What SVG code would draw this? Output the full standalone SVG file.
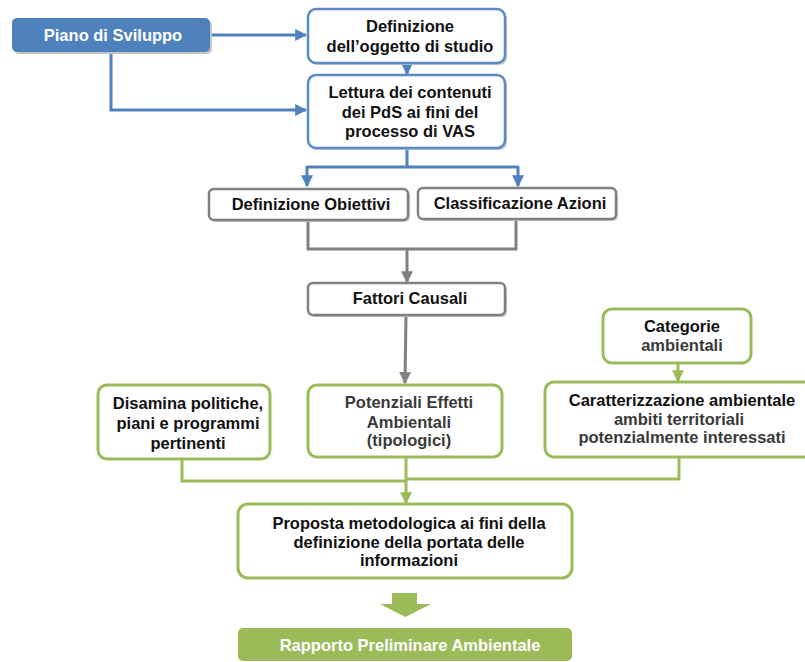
<svg xmlns="http://www.w3.org/2000/svg" width="805" height="662" viewBox="0 0 805 662">
<defs>
<style>
text{font-family:"Liberation Sans",Arial,sans-serif;font-weight:bold;font-size:16.5px;text-anchor:middle;fill:#111}
.lt{fill:#3a3a3a}
.wt{fill:#fff}
.sh{fill:#c4c4c4}
.bb{fill:#fff;stroke:#5b8bc6;stroke-width:2.5}
.gb{fill:#fff;stroke:#808080;stroke-width:2.5}
.vb{fill:#fff;stroke:#9bbb59;stroke-width:3}
.cb{fill:none;stroke:#4f81bd;stroke-width:3}
.cg{fill:none;stroke:#808080;stroke-width:3}
.cv{fill:none;stroke:#9bbb59;stroke-width:3}
</style>
<marker id="ab" viewBox="0 0 10 10" refX="9" refY="5" markerWidth="4" markerHeight="4" orient="auto" markerUnits="strokeWidth"><path d="M0,0 L10,5 L0,10 z" fill="#4f81bd"/></marker>
<marker id="ag" viewBox="0 0 10 10" refX="9" refY="5" markerWidth="4" markerHeight="4" orient="auto" markerUnits="strokeWidth"><path d="M0,0 L10,5 L0,10 z" fill="#808080"/></marker>
<marker id="av" viewBox="0 0 10 10" refX="9" refY="5" markerWidth="4" markerHeight="4" orient="auto" markerUnits="strokeWidth"><path d="M0,0 L10,5 L0,10 z" fill="#9bbb59"/></marker>
</defs>
<rect width="805" height="662" fill="#fff"/>

<g id="connectors">
<path class="cb" d="M210,35 H306" marker-end="url(#ab)"/>
<path class="cb" d="M111,52 V110 H306" marker-end="url(#ab)"/>
<path class="cb" d="M407,63 V74" marker-end="url(#ab)"/>
<path class="cb" d="M407,148 V167 M307,167 H518"/>
<path class="cb" d="M307,166 V186" marker-end="url(#ab)"/>
<path class="cb" d="M518,166 V186" marker-end="url(#ab)"/>
<path class="cg" d="M308,220 V249 H516 V219"/>
<path class="cg" d="M407,249 V282" marker-end="url(#ag)"/>
<path class="cg" d="M406,315 L405,383" marker-end="url(#ag)"/>
<path class="cv" d="M678,363 V381" marker-end="url(#av)"/>
<path class="cv" d="M182,459 V481 H406"/>
<path class="cv" d="M679,457 V479 H406"/>
<path class="cv" d="M406,457 V503" marker-end="url(#av)"/>
<path d="M392,593 H417 V604 H431 L405.5,617 L380,604 H392 Z" fill="#9bbb59"/>
</g>

<g id="piano">
<rect x="14" y="20" width="198" height="34" rx="5" class="sh"/>
<rect x="12" y="18" width="198" height="34" rx="5" fill="#4f81bd"/>
<text x="113" y="41" class="wt">Piano di Sviluppo</text>
</g>

<g id="definizione">
<rect x="310" y="11" width="197" height="54" rx="8" class="sh"/>
<rect x="308" y="9" width="197" height="54" rx="8" class="bb"/>
<text x="410" y="32">Definizione</text>
<text x="410" y="52">dell’oggetto di studio</text>
</g>

<g id="lettura">
<rect x="310" y="77" width="197" height="73" rx="8" class="sh"/>
<rect x="308" y="75" width="197" height="73" rx="8" class="bb"/>
<text x="410" y="98">Lettura dei contenuti</text>
<text x="410" y="118">dei PdS ai fini del</text>
<text x="410" y="137">processo di VAS</text>
</g>

<g id="obiettivi">
<rect x="211" y="191" width="199" height="31" rx="5" class="sh"/>
<rect x="209" y="189" width="199" height="31" rx="5" class="gb"/>
<text x="311" y="210">Definizione Obiettivi</text>
</g>

<g id="azioni">
<rect x="420" y="190" width="198" height="31" rx="5" class="sh"/>
<rect x="418" y="188" width="198" height="31" rx="5" class="gb"/>
<text x="520" y="209">Classificazione Azioni</text>
</g>

<g id="fattori">
<rect x="310" y="285" width="197" height="32" rx="5" class="sh"/>
<rect x="308" y="283" width="197" height="32" rx="5" class="gb"/>
<text x="410" y="304">Fattori Causali</text>
</g>

<g id="categorie">
<rect x="603" y="309" width="148" height="54" rx="9" class="vb"/>
<text x="682" y="332">Categorie</text>
<text x="682" y="351" class="lt">ambientali</text>
</g>

<g id="disamina">
<rect x="98" y="385" width="172" height="74" rx="9" class="vb"/>
<text x="188" y="409">Disamina politiche,</text>
<text x="188" y="429">piani e programmi</text>
<text x="188" y="449">pertinenti</text>
</g>

<g id="potenziali">
<rect x="308" y="385" width="194" height="72" rx="9" class="vb"/>
<text x="409" y="408" class="lt">Potenziali Effetti</text>
<text x="409" y="428" class="lt">Ambientali</text>
<text x="409" y="446" class="lt">(tipologici)</text>
</g>

<g id="caratterizzazione">
<rect x="545" y="382" width="275" height="75" rx="9" class="vb"/>
<text x="682" y="406">Caratterizzazione ambientale</text>
<text x="679" y="425" class="lt">ambiti territoriali</text>
<text x="682" y="443" class="lt">potenzialmente interessati</text>
</g>

<g id="proposta">
<rect x="238" y="504" width="334" height="74" rx="10" class="vb"/>
<text x="409" y="529">Proposta metodologica ai fini della</text>
<text x="409" y="548">definizione della portata delle</text>
<text x="409" y="566">informazioni</text>
</g>

<g id="rapporto">
<rect x="238" y="628" width="334" height="33" rx="5" fill="#9bbb59"/>
<text x="410" y="651" class="wt">Rapporto Preliminare Ambientale</text>
</g>
</svg>
